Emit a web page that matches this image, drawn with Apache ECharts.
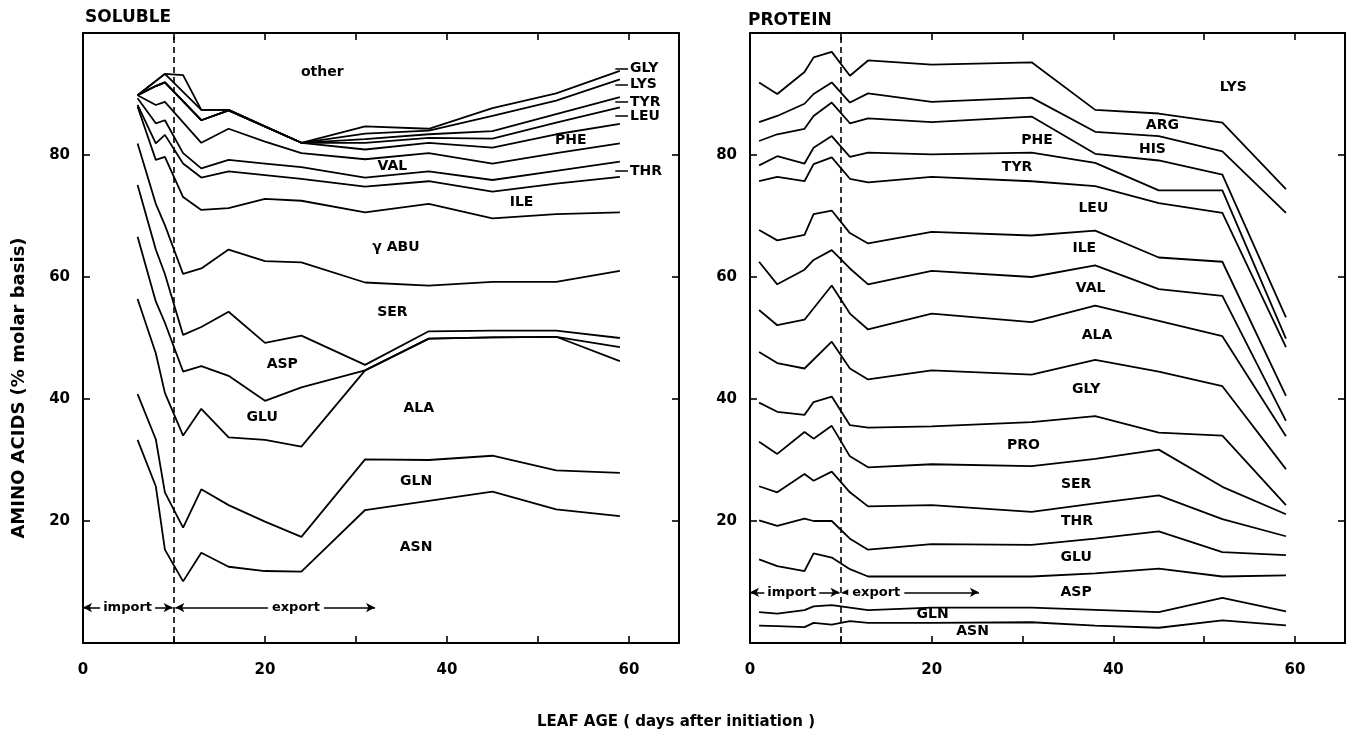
<!DOCTYPE html>
<html><head><meta charset="utf-8">
<script src="https://cdn.jsdelivr.net/npm/echarts@6.0.0/dist/echarts.min.js"></script>
<style>html,body{margin:0;padding:0;background:#fff}#c{width:1348px;height:734px}</style>
</head><body><div id="c"></div>
<script>
// ---------- DATA (cumulative % molar, each array = upper boundary of the named amino acid band) ----------
const solubleDays = [6, 8, 9, 11, 13, 16, 20, 24, 31, 38, 45, 52, 59];
const solASN = [33.3, 25.7, 15.3, 10.1, 14.8, 12.5, 11.8, 11.7, 21.8, 23.3, 24.8, 21.9, 20.8];
const solGLN = [40.8, 33.4, 24.7, 18.9, 25.2, 22.6, 19.9, 17.4, 30.1, 30.0, 30.7, 28.3, 27.9];
const solALA = [56.4, 47.5, 41.0, 34.0, 38.4, 33.7, 33.3, 32.2, 44.7, 49.9, 50.1, 50.2, 46.2];
const solGLU = [66.6, 56.0, 52.5, 44.5, 45.4, 43.8, 39.7, 41.9, 44.7, 49.9, 50.1, 50.2, 48.5];
const solASP = [75.1, 64.5, 60.5, 50.5, 51.8, 54.3, 49.2, 50.4, 45.6, 51.1, 51.2, 51.2, 50.0];
const solSER = [81.9, 72.0, 68.5, 60.5, 61.4, 64.5, 62.6, 62.4, 59.1, 58.6, 59.2, 59.2, 61.0];
const solABU = [87.9, 79.2, 79.7, 73.1, 71.0, 71.3, 72.8, 72.5, 70.6, 72.0, 69.6, 70.3, 70.6];
const solILE = [88.2, 81.9, 83.3, 78.6, 76.3, 77.3, 76.7, 76.1, 74.8, 75.7, 74.0, 75.3, 76.4];
const solTHR = [89.3, 85.2, 85.7, 80.3, 77.8, 79.2, 78.6, 78.0, 76.3, 77.3, 75.9, 77.4, 78.9];
const solVAL = [89.8, 88.2, 88.7, null, 82.0, 84.3, 82.2, 80.3, 79.3, 80.3, 78.6, 80.3, 81.9];
const solPHE = [89.8, 91.3, 91.9, null, 85.7, 87.3, null, 82.0, 80.9, 82.0, 81.2, 83.4, 85.1];
const solLEU = [89.8, 91.3, 91.9, null, 85.7, 87.3, null, 82.0, 82.0, 82.8, 82.7, 85.3, 87.8];
const solTYR = [89.8, 91.3, 91.9, null, 85.7, 87.3, null, 82.0, 82.6, 83.4, 83.9, 86.7, 89.5];
const solLYS = [89.8, null, 93.3, null, 87.4, 87.4, null, 82.0, 83.5, 84.0, 86.4, 88.9, 92.4];
const solGLY = [89.8, null, 93.3, 93.1, 87.4, 87.4, null, 82.0, 84.7, 84.3, 87.7, 90.1, 93.8];

const proteinDays = [1, 3, 6, 7, 9, 11, 13, 20, 31, 38, 45, 52, 59];
const protASN = [2.85, 2.75, 2.6, 3.3, 3.0, 3.6, 3.3, 3.3, 3.4, 2.85, 2.5, 3.7, 2.9];
const protGLN = [5.05, 4.8, 5.4, 6.0, 6.2, 5.8, 5.4, 5.8, 5.8, null, 5.05, 7.4, 5.2];
const protASP = [13.7, 12.6, 11.8, 14.7, 14.0, 12.1, 10.9, 10.9, 10.9, 11.4, 12.2, 10.9, 11.1];
const protGLU = [20.1, 19.2, 20.4, 20.0, 20.0, 17.1, 15.3, 16.2, 16.1, 17.1, 18.3, 14.9, 14.4];
const protTHR = [25.7, 24.7, 27.7, 26.6, 28.1, 24.7, 22.4, 22.6, 21.5, 22.9, 24.2, 20.3, 17.5];
const protSER = [33.0, 31.0, 34.6, 33.5, 35.6, 30.6, 28.8, 29.3, 29.0, 30.2, 31.7, 25.6, 21.1];
const protPRO = [39.4, 37.9, 37.4, 39.5, 40.4, 35.7, 35.3, 35.5, 36.2, 37.2, 34.5, 34.0, 22.6];
const protGLY = [47.7, 45.9, 45.0, null, 49.4, 45.0, 43.2, 44.7, 44.0, 46.4, 44.5, 42.1, 28.5];
const protALA = [54.6, 52.1, 53.0, null, 58.6, 54.0, 51.4, 54.0, 52.6, 55.3, null, 50.3, 33.9];
const protVAL = [62.5, 58.8, 61.2, 62.8, 64.4, 61.4, 58.8, 61.0, 60.0, 61.9, 58.0, 56.9, 36.4];
const protILE = [67.7, 66.0, 66.9, 70.3, 70.9, 67.2, 65.5, 67.4, 66.8, 67.6, 63.2, 62.5, 40.5];
const protLEU = [75.7, 76.4, 75.7, 78.5, 79.6, 76.1, 75.5, 76.4, 75.7, 74.9, 72.1, 70.5, 48.5];
const protTYR = [78.3, 79.8, 78.6, 81.2, 83.1, 79.7, 80.4, 80.1, 80.4, 78.7, 74.2, 74.2, 49.9];
const protPHE = [82.3, 83.4, 84.3, 86.4, 88.6, 85.2, 86.0, 85.4, 86.3, 80.2, 79.1, 76.8, 53.4];
const protHIS = [85.4, 86.4, 88.4, 90.0, 91.9, 88.6, 90.1, 88.7, 89.4, 83.8, 83.1, 80.6, 70.5];
const protARG = [91.9, 90.0, 93.6, 96.0, 96.9, 93.0, 95.5, 94.8, 95.2, 87.4, 86.8, 85.3, 74.4];

const transitionDay = 10;           // import -> export
const xTickLabels = [0, 20, 40, 60];
const yTickLabels = [20, 40, 60, 80];

// band labels: [text, day, %]
const solubleLabels = [
  ['other', 26.3, 93.5], ['PHE', 53.6, 82.4], ['VAL', 34.0, 78.2], ['ILE', 48.2, 72.2],
  ['\u03B3 ABU', 34.4, 64.8], ['SER', 34.0, 54.2], ['ASP', 21.9, 45.7], ['GLU', 19.7, 37.0],
  ['ALA', 36.9, 38.4], ['GLN', 36.6, 26.5], ['ASN', 36.6, 15.7]
];
const solubleSideLabels = [['GLY', 94.2], ['LYS', 91.5], ['TYR', 88.7], ['LEU', 86.4], ['THR', 77.4]];
const proteinLabels = [
  ['LYS', 53.2, 91.1], ['ARG', 45.4, 84.9], ['HIS', 44.3, 80.9], ['PHE', 31.6, 82.4],
  ['TYR', 29.4, 77.9], ['LEU', 37.8, 71.3], ['ILE', 36.8, 64.7], ['VAL', 37.5, 58.1],
  ['ALA', 38.2, 50.5], ['GLY', 37.0, 41.6], ['PRO', 30.1, 32.4], ['SER', 35.9, 26.0],
  ['THR', 36.0, 20.0], ['GLU', 35.9, 14.0], ['ASP', 35.9, 8.3], ['GLN', 20.1, 4.7], ['ASN', 24.5, 1.9]
];
// phase arrows
const solublePhase = {y: 5.8, importX: 4.9, exportX: 23.4, exportEnd: 32.1};
const proteinPhase = {y: 8.3, importX: 4.6, exportX: 13.9, exportEnd: 25.2};

// ---------- CHART ----------
const FONT = 'DejaVu Sans';
const chart = echarts.init(document.getElementById('c'), null, {renderer: 'canvas'});
const gridTop = 33, gridH = 610, gridW = 596;
const grids = [{left: 83, top: gridTop, width: gridW, height: gridH}, {left: 750, top: gridTop, width: gridW, height: gridH}];

function xAx(gi, pos) {
  return {
    type: 'value', gridIndex: gi, position: pos, min: 0, max: 65.5, interval: 10,
    axisLine: {show: true, onZero: false, lineStyle: {color: '#000', width: 2}},
    axisTick: {show: true, inside: true, length: 7, lineStyle: {color: '#000', width: 1.6}},
    axisLabel: pos === 'bottom' ? {show: true, margin: 20, color: '#000', fontFamily: FONT, fontWeight: 'bold', fontSize: 15,
      formatter: v => xTickLabels.indexOf(v) >= 0 ? String(v) : ''} : {show: false},
    splitLine: {show: false}
  };
}
function yAx(gi, pos) {
  return {
    type: 'value', gridIndex: gi, position: pos, min: 0, max: 100, interval: 20,
    axisLine: {show: true, onZero: false, lineStyle: {color: '#000', width: 2}},
    axisTick: {show: true, inside: true, length: 7, lineStyle: {color: '#000', width: 1.6}},
    axisLabel: pos === 'left' ? {show: true, margin: 13, color: '#000', fontFamily: FONT, fontWeight: 'bold', fontSize: 15,
      formatter: v => yTickLabels.indexOf(v) >= 0 ? String(v) : ''} : {show: false},
    splitLine: {show: false}
  };
}

function lineSeries(days, vals, gi) {
  return {
    type: 'line', xAxisIndex: gi * 2, yAxisIndex: gi * 2,
    data: days.map((d, i) => [d, vals[i]]).filter(p => p[1] !== null),
    symbol: 'none', silent: true, animation: false,
    lineStyle: {color: '#000', width: 1.8}, z: 3
  };
}
const labelFont = {color: '#000', opacity: 1, textBorderWidth: 0, fontFamily: FONT, fontWeight: 'bold', fontSize: 14};

function labelSeries(gi, labels, phase, side) {
  const data = labels.map(l => ({name: l[0], value: [l[1], l[2]]}));
  data.push({name: 'import', value: [phase.importX, phase.y], label: {backgroundColor: '#fff', padding: [1, 3], fontSize: 13}});
  data.push({name: 'export', value: [phase.exportX, phase.y], label: {backgroundColor: '#fff', padding: [1, 4], fontSize: 13}});
  const mlData = [
    [{coord: [0, phase.y], symbol: 'arrow'}, {coord: [transitionDay - 0.15, phase.y], symbol: 'arrow'}],
    [{coord: [transitionDay + 0.15, phase.y], symbol: 'arrow'}, {coord: [phase.exportEnd, phase.y], symbol: 'arrow'}]
  ];
  if (side) {
    side.forEach(s => {
      data.push({name: s[0], value: [60.0, s[1]], label: {position: 'right', distance: 1}});
      mlData.push([{coord: [58.5, s[1]], symbol: 'none'}, {coord: [59.9, s[1]], symbol: 'none'}]);
    });
  }
  return {
    type: 'scatter', xAxisIndex: gi * 2, yAxisIndex: gi * 2, data: data,
    symbolSize: 0, itemStyle: {color: '#000', opacity: 1}, silent: true, animation: false, z: 10,
    label: Object.assign({show: true, position: 'inside', formatter: '{b}'}, labelFont),
    emphasis: {disabled: true},
    markLine: {silent: true, animation: false, symbolSize: [7, 9], label: {show: false},
      lineStyle: {color: '#000', width: 1.5, type: 'solid', opacity: 1}, data: mlData}
  };
}
function dashSeries(gi) {
  return {
    type: 'line', xAxisIndex: gi * 2, yAxisIndex: gi * 2, data: [], silent: true, animation: false,
    markLine: {silent: true, animation: false, symbol: 'none', label: {show: false},
      lineStyle: {color: '#000', width: 1.6, type: [6, 4], opacity: 1}, data: [{xAxis: transitionDay}]}
  };
}

const solubleSets = [solASN, solGLN, solALA, solGLU, solASP, solSER, solABU, solILE, solTHR, solVAL, solPHE, solLEU, solTYR, solLYS, solGLY];
const proteinSets = [protASN, protGLN, protASP, protGLU, protTHR, protSER, protPRO, protGLY, protALA, protVAL, protILE, protLEU, protTYR, protPHE, protHIS, protARG];

const series = [];
solubleSets.forEach(s => series.push(lineSeries(solubleDays, s, 0)));
proteinSets.forEach(s => series.push(lineSeries(proteinDays, s, 1)));
series.push(dashSeries(0), dashSeries(1));
series.push(labelSeries(0, solubleLabels, solublePhase, solubleSideLabels));
series.push(labelSeries(1, proteinLabels, proteinPhase, null));

const titleFont = {fill: '#000', fontFamily: FONT, fontWeight: 'bold'};
chart.setOption({
  animation: false,
  backgroundColor: '#fff',
  grid: grids,
  xAxis: [xAx(0, 'bottom'), xAx(0, 'top'), xAx(1, 'bottom'), xAx(1, 'top')],
  yAxis: [yAx(0, 'left'), yAx(0, 'right'), yAx(1, 'left'), yAx(1, 'right')],
  series: series,
  graphic: [
    {type: 'text', left: 85, top: 9, style: Object.assign({text: 'SOLUBLE', fontSize: 17}, titleFont)},
    {type: 'text', left: 748, top: 12, style: Object.assign({text: 'PROTEIN', fontSize: 17}, titleFont)},
    {type: 'text', x: 676, y: 722, style: Object.assign({text: 'LEAF AGE ( days after initiation )', fontSize: 15, align: 'center', verticalAlign: 'middle'}, titleFont)},
    {type: 'text', x: 19, y: 388, rotation: Math.PI / 2, style: Object.assign({text: 'AMINO ACIDS (% molar basis)', fontSize: 18, align: 'center', verticalAlign: 'middle'}, titleFont)}
  ]
});
</script></body></html>
